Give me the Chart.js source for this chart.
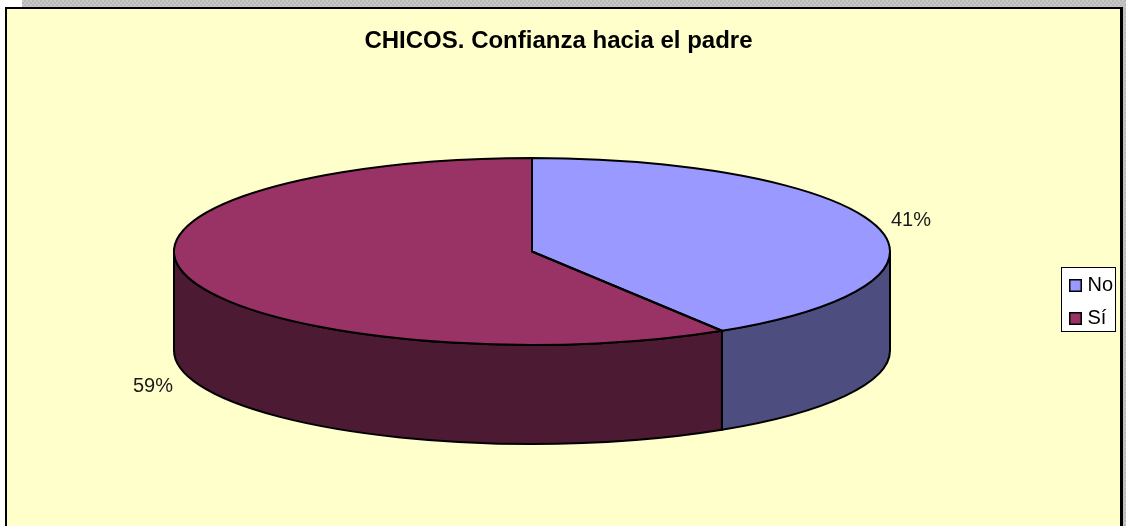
<!DOCTYPE html>
<html>
<head>
<meta charset="utf-8">
<style>
html,body{margin:0;padding:0;background:#fff;overflow:hidden}
#page{position:relative;width:1126px;height:526px;overflow:hidden}
#grey{position:absolute;left:22px;top:0;right:0;bottom:0;background-color:#c0c0c0;background-image:repeating-conic-gradient(#b8b8b8 0 25%,#c8c8c8 0 50%);background-size:4px 4px}
#panel{position:absolute;left:5px;top:7px;width:1113px;height:540px;background:#ffffcc;border-left:2px solid #000;border-top:2px solid #000;border-right:3px solid #000}
#shadowfix{position:absolute;left:0;top:7px;width:5px;bottom:0;background:#fff}
canvas{position:absolute;left:0;top:0}
</style>
<script src="https://cdn.jsdelivr.net/npm/chart.js@4"></script>
</head>
<body>
<div id="page">
<div id="grey"></div>
<div id="shadowfix"></div>
<div id="panel"></div>
<canvas id="c" width="1117" height="526"></canvas>
</div>
<script>
const chartTitle = "CHICOS. Confianza hacia el padre";
const categories = ["No", "Sí"];
const values = [41.1, 58.9];
const topColors = ["#9999FF", "#993366"];
const sideColors = ["#4D4D80", "#4D1A33"];

const FONT = '"Liberation Sans", Arial, sans-serif';
const PIE = {cx: 532, cy: 251.5, rx: 358, ry: 93.5, depth: 99};
const LABEL_POS = [[911, 220], [153, 386]];
const LEGEND_BOX = {x: 1061, y: 267, w: 55, h: 65};
const LEGEND_SHIFT = {x: 6, y: 39};

function swatch(color){
  const s = document.createElement('canvas');
  s.width = 13; s.height = 13;
  const g = s.getContext('2d');
  g.fillStyle = color; g.fillRect(0,0,13,13);
  g.strokeStyle = '#000'; g.lineWidth = 1.5; g.strokeRect(.75,.75,11.5,11.5);
  return s;
}

const pie3d = {
  id: 'pie3d',
  afterLayout(chart){
    const l = chart.legend;
    l.left += LEGEND_SHIFT.x; l.right += LEGEND_SHIFT.x;
    l.top += LEGEND_SHIFT.y; l.bottom += LEGEND_SHIFT.y;
  },
  beforeDraw(chart){
    const c = chart.ctx, b = LEGEND_BOX;
    c.save();
    c.fillStyle = '#fff'; c.fillRect(b.x, b.y, b.w, b.h);
    c.strokeStyle = '#000'; c.lineWidth = 1; c.strokeRect(b.x+.5, b.y+.5, b.w-1, b.h-1);
    c.restore();
  },
  beforeDatasetsDraw(chart){
    const c = chart.ctx, p = PIE, arcs = chart.getDatasetMeta(0).data;
    c.save();
    c.lineWidth = 2; c.strokeStyle = '#000'; c.lineJoin = 'round';
    arcs.forEach((a, i) => {
      const s = Math.max(a.startAngle, 0), e = Math.min(a.endAngle, Math.PI);
      if (e <= s) return;
      c.beginPath();
      c.ellipse(p.cx, p.cy, p.rx, p.ry, 0, s, e);
      c.ellipse(p.cx, p.cy + p.depth, p.rx, p.ry, 0, e, s, true);
      c.closePath();
      c.fillStyle = sideColors[i];
      c.fill(); c.stroke();
    });
    c.restore();
    const a0 = arcs[0], R = a0.outerRadius;
    c.save();
    c.translate(p.cx, p.cy);
    c.scale(p.rx / R, p.ry / R);
    c.translate(-a0.x, -a0.y);
  },
  afterDatasetsDraw(chart){
    const c = chart.ctx, p = PIE, arcs = chart.getDatasetMeta(0).data;
    c.restore();
    c.save();
    c.lineWidth = 2; c.strokeStyle = '#000'; c.lineJoin = 'round';
    arcs.forEach(a => {
      c.beginPath();
      c.moveTo(p.cx, p.cy);
      c.ellipse(p.cx, p.cy, p.rx, p.ry, 0, a.startAngle, a.endAngle);
      c.closePath();
      c.stroke();
    });
    c.fillStyle = '#1a1a1a';
    c.font = '20px ' + FONT;
    c.textAlign = 'center'; c.textBaseline = 'middle';
    const total = values.reduce((x, y) => x + y, 0);
    values.forEach((v, i) => {
      c.fillText(Math.round(v / total * 100) + '%', LABEL_POS[i][0], LABEL_POS[i][1]);
    });
    c.restore();
  }
};

new Chart(document.getElementById('c'), {
  type: 'pie',
  data: {
    labels: categories,
    datasets: [{data: values, backgroundColor: topColors, borderWidth: 0}]
  },
  plugins: [pie3d],
  options: {
    responsive: false,
    animation: false,
    plugins: {
      tooltip: {enabled: false},
      title: {
        display: true, text: chartTitle, color: '#000',
        font: {family: FONT, size: 24, weight: 'bold'},
        padding: {top: 27, bottom: 20}
      },
      legend: {
        position: 'right',
        labels: {
          color: '#000',
          font: {family: FONT, size: 20},
          usePointStyle: true,
          pointStyleWidth: 4,
          padding: 13,
          generateLabels(chart){
            return categories.map((t, i) => ({
              text: t, pointStyle: swatch(topColors[i]), fillStyle: topColors[i],
              strokeStyle: '#000', lineWidth: 0, hidden: false, index: i, datasetIndex: 0
            }));
          }
        }
      }
    }
  }
});
</script>
</body>
</html>
